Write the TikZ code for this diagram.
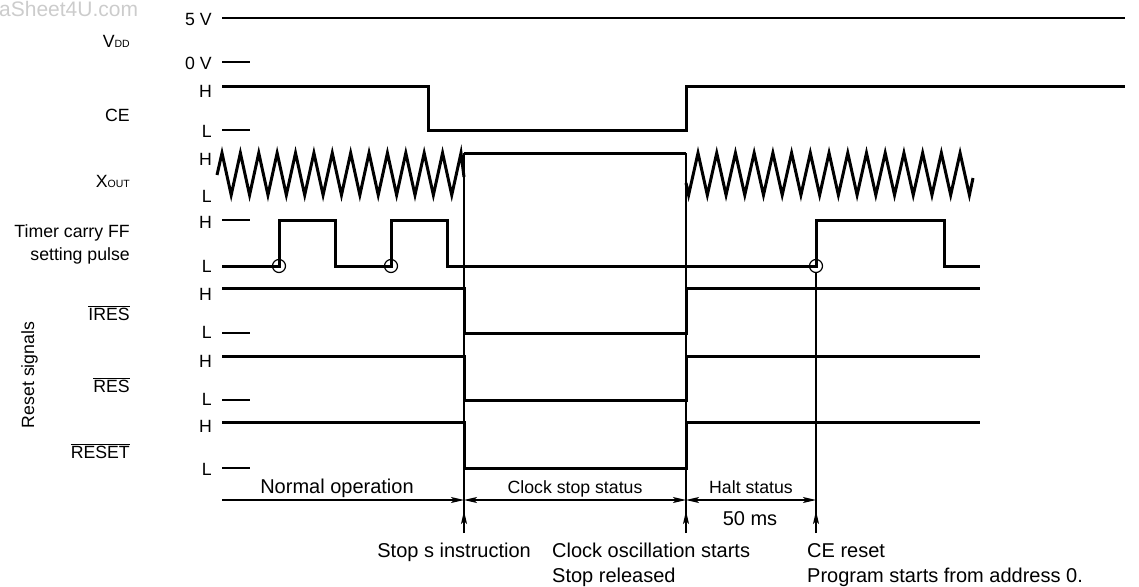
\documentclass[tikz,border=0pt]{standalone}
\usepackage{fontspec}
\setmainfont{Liberation Sans}
\usepackage{tikz}
\usetikzlibrary{arrows.meta, shapes.geometric}
\tikzstyle{sig} = [line width=3pt, line join=miter]
\tikzstyle{rail} = [line width=2pt]
\tikzstyle{lvltick} = [line width=1.2pt]
\tikzstyle{cursor} = [line width=1.2pt]
\tikzstyle{spanline} = [line width=1.2pt, >={Stealth[length=13pt,width=6pt,inset=3pt]}]
\tikzstyle{edgemark} = [circle, draw, line width=1.2pt, minimum size=13pt, inner sep=0pt]
\tikzstyle{lvl} = [anchor=base east, inner sep=0pt, font=\fontsize{17.7}{20}\selectfont]
\tikzstyle{siglabel} = [anchor=base east, inner sep=0pt, font=\fontsize{17.7}{20}\selectfont]
\tikzstyle{note} = [anchor=base west, inner sep=0pt, font=\fontsize{20}{24}\selectfont]
\newcommand{\smallcaps}[1]{{\fontsize{10.5}{12}\selectfont #1}}

\begin{document}
\begin{tikzpicture}[x=1pt, y=-1pt]
    \useasboundingbox (0,0) rectangle (1139,586);

    % Watermark
    \node[note, text=gray!40, font=\fontsize{21}{24}\selectfont] (wm) at (-1,17) {aSheet4U.com};

    % Signal names
    \node[siglabel] (vdd) at (130,48) {V\smallcaps{DD}};
    \node[siglabel] (ce) at (130,121) {CE};
    \node[siglabel] (xout) at (130,187) {X\smallcaps{OUT}};
    \node[siglabel] (timer) at (130,237) {Timer carry FF};
    \node[siglabel] (pulse) at (130,260) {setting pulse};
    \node[siglabel] (ires) at (130,320) {$\overline{\mbox{IRES}}$};
    \node[siglabel] (res) at (130,392) {$\overline{\mbox{RES}}$};
    \node[siglabel] (reset) at (130,458) {$\overline{\mbox{RESET}}$};
    \node[siglabel, anchor=base, rotate=90] (resetsig) at (34,375) {Reset signals};

    % Levels
    \node[lvl] (v5) at (212,26) {5 V};
    \node[lvl] (v0) at (212,70) {0 V};
    \node[lvl] (ceh) at (212,97) {H};
    \node[lvl] (cel) at (212,137) {L};
    \node[lvl] (xh) at (212,165) {H};
    \node[lvl] (xl) at (212,202) {L};
    \node[lvl] (th) at (212,228) {H};
    \node[lvl] (tl) at (212,272) {L};
    \node[lvl] (iresh) at (212,300) {H};
    \node[lvl] (iresl) at (212,338) {L};
    \node[lvl] (resh) at (212,367) {H};
    \node[lvl] (resl) at (212,405) {L};
    \node[lvl] (reseth) at (212,432) {H};
    \node[lvl] (resetl) at (212,475) {L};

    % Level ticks
    \foreach \y in {62,130,220,333,400,468}
        \draw[lvltick] (222,\y) -- (250,\y);

    % VDD
    \draw[rail] (222,18) -- (1125,18);

    % CE
    \draw[sig] (222,86) -| (428,130) -| (686,86) -- (1125,86);

    % Xout
    \draw[sig] (217,175)
        \foreach \k in {0,...,12} { -- ({222+18.38*\k},153) -- ({231.19+18.38*\k},195) }
        -- (461,153) -- (464,177);
    \draw[sig] (464,153) -- (686,153);
    \draw[sig] (686,183)
        \foreach \k in {0,...,14} { -- ({688.6+18.72*\k},195) -- ({698+18.72*\k},153) }
        -- (969.4,195) -- (973,178);

    % Timer carry FF setting pulse
    \draw[sig] (222,266) -| (279,220) -| (335,266) -| (391,220) -| (447,266)
        -| (816,220) -| (944,266) -- (980,266);
    \node[edgemark] (e1) at (279,266) {};
    \node[edgemark] (e2) at (391,266) {};
    \node[edgemark] (e3) at (816,266) {};

    % Reset signals
    \foreach \h/\l in {288/333, 356/400, 422/468}
        \draw[sig] (222,\h) -| (464,\l) -| (686,\h) -- (980,\h);

    % Event markers
    \coordinate (stoptop) at (464,153);
    \coordinate (osctop) at (686,153);
    \coordinate (start) at (222,500);
    \coordinate (stop) at (464,500);
    \coordinate (osc) at (686,500);
    \coordinate (cer) at (816,500);
    \coordinate (stopfoot) at (464,533);
    \coordinate (oscfoot) at (686,533);
    \coordinate (cerfoot) at (816,533);
    \draw[cursor] (stoptop) -- (stopfoot);
    \draw[cursor] (osctop) -- (oscfoot);
    \draw[cursor] (e3.south) -- (cerfoot);
    \draw[spanline, ->] (stopfoot) -- ++(0,-22);
    \draw[spanline, ->] (oscfoot) -- ++(0,-22);
    \draw[spanline, ->] (cerfoot) -- ++(0,-22);

    % Intervals
    \draw[spanline, ->] (start) -- (stop);
    \draw[spanline, <->] (stop) -- (osc);
    \draw[spanline, <->] (osc) -- (cer);
    \node[note, anchor=base] (normal) at (337,493) {Normal operation};
    \node[lvl, anchor=base] (clkstop) at (575,493) {Clock stop status};
    \node[lvl, anchor=base] (halt) at (751,493) {Halt status};
    \node[note, anchor=base] (ms) at (750,525) {50 ms};

    % Events
    \node[note, anchor=base east] (stopins) at (531,557) {Stop s instruction};
    \node[note] (oscstart) at (552,557) {Clock oscillation starts};
    \node[note] (released) at (552,582) {Stop released};
    \node[note] (cereset) at (807,557) {CE reset};
    \node[note] (prog) at (807,582) {Program starts from address 0.};

\end{tikzpicture}
\end{document}
